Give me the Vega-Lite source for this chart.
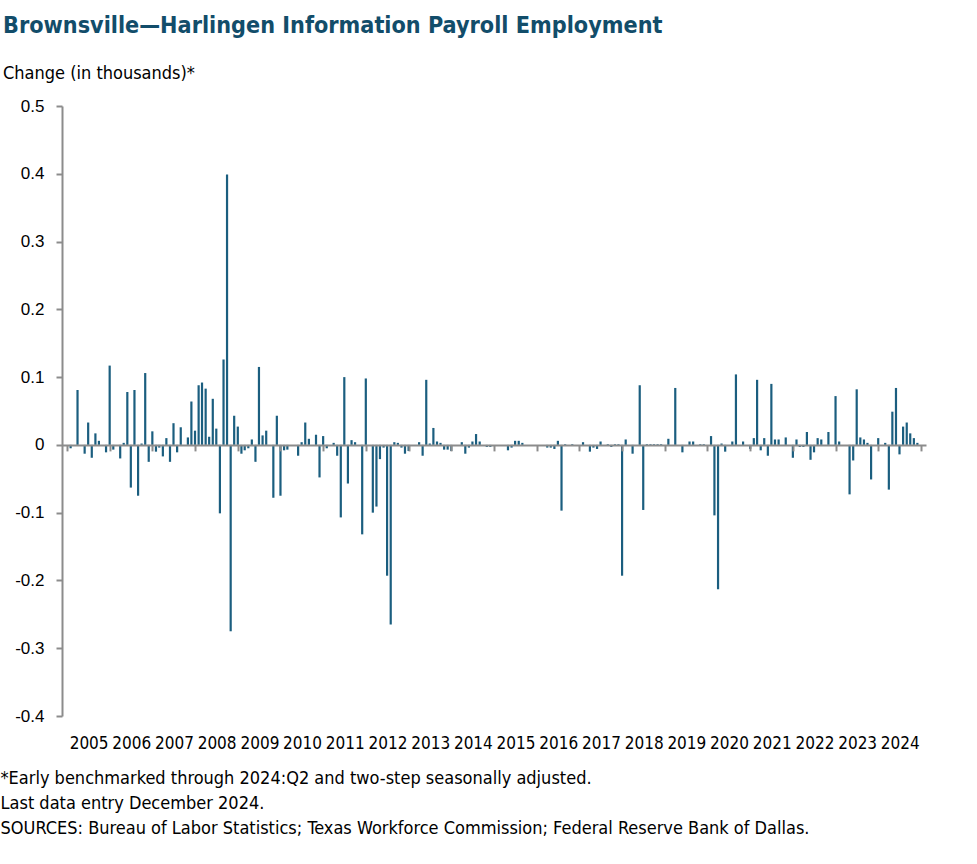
{
  "$schema": "https://vega.github.io/schema/vega-lite/v6.json",
  "width": 864,
  "height": 610,
  "autosize": {"type": "none"},
  "padding": {"left": 62, "top": 106, "right": 51, "bottom": 148},
  "background": "white",
  "title": {
    "text": "Brownsville—Harlingen Information Payroll Employment",
    "subtitle": "Change (in thousands)*",
    "anchor": "start",
    "frame": "group",
    "dx": -59,
    "offset": 13,
    "font": "Liberation Sans Narrow, DejaVu Sans Condensed, sans-serif",
    "fontSize": 23.2,
    "fontWeight": "bold",
    "color": "#124d6a",
    "subtitleFont": "Liberation Sans Narrow, DejaVu Sans Condensed, sans-serif",
    "subtitleFontSize": 18,
    "subtitleColor": "#000000",
    "subtitlePadding": 27
  },
  "data": {
    "values": [
      {"month": "2005-02", "change": -0.005}, {"month": "2005-03", "change": 0}, {"month": "2005-04", "change": 0.081}, {"month": "2005-05", "change": 0}, {"month": "2005-06", "change": -0.013}, {"month": "2005-07", "change": 0.033}, {"month": "2005-08", "change": -0.019}, {"month": "2005-09", "change": 0.017}, {"month": "2005-10", "change": 0.006}, {"month": "2005-11", "change": 0}, {"month": "2005-12", "change": -0.011},
      {"month": "2006-01", "change": 0.117}, {"month": "2006-02", "change": -0.007}, {"month": "2006-03", "change": 0}, {"month": "2006-04", "change": -0.02}, {"month": "2006-05", "change": 0.003}, {"month": "2006-06", "change": 0.078}, {"month": "2006-07", "change": -0.063}, {"month": "2006-08", "change": 0.081}, {"month": "2006-09", "change": -0.075}, {"month": "2006-10", "change": 0.002}, {"month": "2006-11", "change": 0.106}, {"month": "2006-12", "change": -0.025},
      {"month": "2007-01", "change": 0.02}, {"month": "2007-02", "change": -0.01}, {"month": "2007-03", "change": -0.004}, {"month": "2007-04", "change": -0.017}, {"month": "2007-05", "change": 0.01}, {"month": "2007-06", "change": -0.025}, {"month": "2007-07", "change": 0.032}, {"month": "2007-08", "change": -0.011}, {"month": "2007-09", "change": 0.026}, {"month": "2007-10", "change": 0}, {"month": "2007-11", "change": 0.011}, {"month": "2007-12", "change": 0.064},
      {"month": "2008-01", "change": 0.021}, {"month": "2008-02", "change": 0.088}, {"month": "2008-03", "change": 0.092}, {"month": "2008-04", "change": 0.083}, {"month": "2008-05", "change": 0.012}, {"month": "2008-06", "change": 0.068}, {"month": "2008-07", "change": 0.024}, {"month": "2008-08", "change": -0.101}, {"month": "2008-09", "change": 0.126}, {"month": "2008-10", "change": 0.399}, {"month": "2008-11", "change": -0.275}, {"month": "2008-12", "change": 0.043},
      {"month": "2009-01", "change": 0.027}, {"month": "2009-02", "change": -0.013}, {"month": "2009-03", "change": -0.008}, {"month": "2009-04", "change": -0.005}, {"month": "2009-05", "change": 0.008}, {"month": "2009-06", "change": -0.025}, {"month": "2009-07", "change": 0.115}, {"month": "2009-08", "change": 0.014}, {"month": "2009-09", "change": 0.021}, {"month": "2009-10", "change": 0}, {"month": "2009-11", "change": -0.078}, {"month": "2009-12", "change": 0.043},
      {"month": "2010-01", "change": -0.075}, {"month": "2010-02", "change": -0.008}, {"month": "2010-03", "change": -0.007}, {"month": "2010-04", "change": 0}, {"month": "2010-05", "change": 0}, {"month": "2010-06", "change": -0.016}, {"month": "2010-07", "change": 0.004}, {"month": "2010-08", "change": 0.033}, {"month": "2010-09", "change": 0.009}, {"month": "2010-10", "change": 0}, {"month": "2010-11", "change": 0.015}, {"month": "2010-12", "change": -0.048},
      {"month": "2011-01", "change": 0.013}, {"month": "2011-02", "change": -0.005}, {"month": "2011-03", "change": 0}, {"month": "2011-04", "change": 0.003}, {"month": "2011-05", "change": -0.016}, {"month": "2011-06", "change": -0.107}, {"month": "2011-07", "change": 0.1}, {"month": "2011-08", "change": -0.057}, {"month": "2011-09", "change": 0.007}, {"month": "2011-10", "change": 0.004}, {"month": "2011-11", "change": 0}, {"month": "2011-12", "change": -0.132},
      {"month": "2012-01", "change": 0.098}, {"month": "2012-02", "change": 0}, {"month": "2012-03", "change": -0.1}, {"month": "2012-04", "change": -0.091}, {"month": "2012-05", "change": -0.021}, {"month": "2012-06", "change": -0.004}, {"month": "2012-07", "change": -0.193}, {"month": "2012-08", "change": -0.265}, {"month": "2012-09", "change": 0.004}, {"month": "2012-10", "change": 0.003}, {"month": "2012-11", "change": -0.004}, {"month": "2012-12", "change": -0.013},
      {"month": "2013-01", "change": -0.009}, {"month": "2013-02", "change": 0}, {"month": "2013-03", "change": 0}, {"month": "2013-04", "change": 0.004}, {"month": "2013-05", "change": -0.016}, {"month": "2013-06", "change": 0.096}, {"month": "2013-07", "change": 0.002}, {"month": "2013-08", "change": 0.025}, {"month": "2013-09", "change": 0.005}, {"month": "2013-10", "change": 0.003}, {"month": "2013-11", "change": -0.007}, {"month": "2013-12", "change": -0.007},
      {"month": "2014-01", "change": -0.009}, {"month": "2014-02", "change": 0}, {"month": "2014-03", "change": 0}, {"month": "2014-04", "change": 0.004}, {"month": "2014-05", "change": -0.013}, {"month": "2014-06", "change": -0.004}, {"month": "2014-07", "change": 0.005}, {"month": "2014-08", "change": 0.016}, {"month": "2014-09", "change": 0.005}, {"month": "2014-10", "change": 0}, {"month": "2014-11", "change": -0.003}, {"month": "2014-12", "change": -0.003},
      {"month": "2015-01", "change": 0}, {"month": "2015-02", "change": 0}, {"month": "2015-03", "change": 0}, {"month": "2015-04", "change": 0}, {"month": "2015-05", "change": -0.008}, {"month": "2015-06", "change": -0.004}, {"month": "2015-07", "change": 0.006}, {"month": "2015-08", "change": 0.006}, {"month": "2015-09", "change": 0.003}, {"month": "2015-10", "change": 0}, {"month": "2015-11", "change": 0}, {"month": "2015-12", "change": 0},
      {"month": "2016-01", "change": 0}, {"month": "2016-02", "change": 0}, {"month": "2016-03", "change": 0}, {"month": "2016-04", "change": -0.004}, {"month": "2016-05", "change": -0.004}, {"month": "2016-06", "change": -0.006}, {"month": "2016-07", "change": 0.006}, {"month": "2016-08", "change": -0.097}, {"month": "2016-09", "change": 0.001}, {"month": "2016-10", "change": 0}, {"month": "2016-11", "change": 0.001}, {"month": "2016-12", "change": 0},
      {"month": "2017-01", "change": 0}, {"month": "2017-02", "change": 0.004}, {"month": "2017-03", "change": 0}, {"month": "2017-04", "change": -0.01}, {"month": "2017-05", "change": -0.004}, {"month": "2017-06", "change": -0.006}, {"month": "2017-07", "change": 0.005}, {"month": "2017-08", "change": 0}, {"month": "2017-09", "change": 0.001}, {"month": "2017-10", "change": -0.003}, {"month": "2017-11", "change": 0.001}, {"month": "2017-12", "change": 0.001},
      {"month": "2018-01", "change": -0.193}, {"month": "2018-02", "change": 0.008}, {"month": "2018-03", "change": 0}, {"month": "2018-04", "change": -0.013}, {"month": "2018-05", "change": 0}, {"month": "2018-06", "change": 0.088}, {"month": "2018-07", "change": -0.096}, {"month": "2018-08", "change": 0.001}, {"month": "2018-09", "change": 0.001}, {"month": "2018-10", "change": 0.001}, {"month": "2018-11", "change": 0.001}, {"month": "2018-12", "change": 0.001},
      {"month": "2019-01", "change": 0}, {"month": "2019-02", "change": 0.009}, {"month": "2019-03", "change": 0}, {"month": "2019-04", "change": 0.084}, {"month": "2019-05", "change": 0}, {"month": "2019-06", "change": -0.011}, {"month": "2019-07", "change": 0}, {"month": "2019-08", "change": 0.005}, {"month": "2019-09", "change": 0.005}, {"month": "2019-10", "change": 0}, {"month": "2019-11", "change": 0.001}, {"month": "2019-12", "change": 0.001},
      {"month": "2020-01", "change": 0}, {"month": "2020-02", "change": 0.013}, {"month": "2020-03", "change": -0.104}, {"month": "2020-04", "change": -0.213}, {"month": "2020-05", "change": 0.002}, {"month": "2020-06", "change": -0.01}, {"month": "2020-07", "change": 0}, {"month": "2020-08", "change": 0.005}, {"month": "2020-09", "change": 0.104}, {"month": "2020-10", "change": 0}, {"month": "2020-11", "change": 0.005}, {"month": "2020-12", "change": 0},
      {"month": "2021-01", "change": -0.006}, {"month": "2021-02", "change": 0.01}, {"month": "2021-03", "change": 0.096}, {"month": "2021-04", "change": -0.008}, {"month": "2021-05", "change": 0.01}, {"month": "2021-06", "change": -0.016}, {"month": "2021-07", "change": 0.09}, {"month": "2021-08", "change": 0.008}, {"month": "2021-09", "change": 0.008}, {"month": "2021-10", "change": 0}, {"month": "2021-11", "change": 0.011}, {"month": "2021-12", "change": 0},
      {"month": "2022-01", "change": -0.019}, {"month": "2022-02", "change": 0.008}, {"month": "2022-03", "change": -0.003}, {"month": "2022-04", "change": -0.003}, {"month": "2022-05", "change": 0.019}, {"month": "2022-06", "change": -0.022}, {"month": "2022-07", "change": -0.011}, {"month": "2022-08", "change": 0.01}, {"month": "2022-09", "change": 0.008}, {"month": "2022-10", "change": 0}, {"month": "2022-11", "change": 0.019}, {"month": "2022-12", "change": 0},
      {"month": "2023-01", "change": 0.072}, {"month": "2023-02", "change": 0.005}, {"month": "2023-03", "change": 0}, {"month": "2023-04", "change": 0}, {"month": "2023-05", "change": -0.073}, {"month": "2023-06", "change": -0.023}, {"month": "2023-07", "change": 0.082}, {"month": "2023-08", "change": 0.011}, {"month": "2023-09", "change": 0.008}, {"month": "2023-10", "change": 0.003}, {"month": "2023-11", "change": -0.051}, {"month": "2023-12", "change": 0},
      {"month": "2024-01", "change": 0.01}, {"month": "2024-02", "change": 0}, {"month": "2024-03", "change": 0.003}, {"month": "2024-04", "change": -0.066}, {"month": "2024-05", "change": 0.049}, {"month": "2024-06", "change": 0.084}, {"month": "2024-07", "change": -0.014}, {"month": "2024-08", "change": 0.027}, {"month": "2024-09", "change": 0.033}, {"month": "2024-10", "change": 0.017}, {"month": "2024-11", "change": 0.01}, {"month": "2024-12", "change": 0.003}
    ]
  },
  "mark": {"type": "bar", "size": 2.2, "color": "#1b5e7f"},
  "encoding": {
    "x": {
      "field": "month",
      "type": "temporal",
      "scale": {
        "type": "utc",
        "domain": [
          {"year": 2005, "month": 1, "date": 1, "utc": true},
          {"year": 2025, "month": 1, "date": 1, "utc": true}
        ]
      },
      "axis": {
        "orient": "bottom",
        "offset": -271.1,
        "tickCount": {"interval": "year", "step": 1},
        "labelExpr": "utcyear(datum.value) >= 2025 ? '' : utcFormat(datum.value, '%Y')",
        "labelOffset": 21.6,
        "labelAlign": "center",
        "labelBaseline": "top",
        "labelPadding": 285,
        "labelFont": "Liberation Sans Narrow, DejaVu Sans Condensed, sans-serif",
        "labelFontSize": 17,
        "labelColor": "#000000",
        "labelBound": false,
        "labelFlush": false,
        "labelOverlap": false,
        "domainColor": "#8c8c8c",
        "domainWidth": 2,
        "tickColor": "#8c8c8c",
        "tickWidth": 2,
        "tickSize": 6,
        "grid": false,
        "zindex": 1,
        "title": [
          "*Early benchmarked through 2024:Q2 and two-step seasonally adjusted.",
          "Last data entry December 2024.",
          "SOURCES: Bureau of Labor Statistics; Texas Workforce Commission; Federal Reserve Bank of Dallas."
        ],
        "titleX": -62,
        "titleY": 325,
        "titleAlign": "left",
        "titleAnchor": "start",
        "titleBaseline": "top",
        "titleFont": "Liberation Sans Narrow, DejaVu Sans Condensed, sans-serif",
        "titleFontSize": 18,
        "titleFontWeight": "normal",
        "titleColor": "#000000",
        "titleLineHeight": 25
      }
    },
    "y": {
      "field": "change",
      "type": "quantitative",
      "scale": {"domain": [-0.4, 0.5], "nice": false},
      "axis": {
        "values": [0.5, 0.4, 0.3, 0.2, 0.1, 0, -0.1, -0.2, -0.3, -0.4],
        "labelExpr": "datum.value == 0 ? '0' : (datum.value < 0 ? '-' : '') + format(abs(datum.value), '.1f')",
        "title": null,
        "domainColor": "#8c8c8c",
        "domainWidth": 2,
        "tickColor": "#8c8c8c",
        "tickWidth": 2,
        "tickSize": 6,
        "labelPadding": 12,
        "labelFont": "Liberation Sans, Arial, sans-serif",
        "labelFontSize": 17,
        "labelColor": "#000000",
        "grid": false
      }
    }
  },
  "config": {"view": {"stroke": null}}
}
